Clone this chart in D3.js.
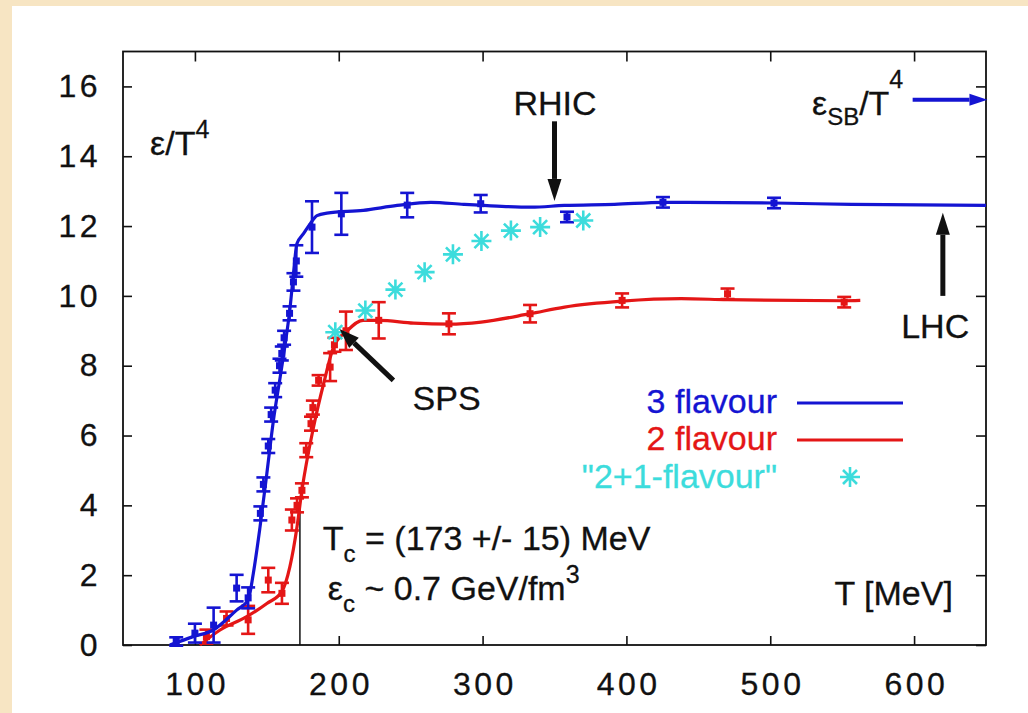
<!DOCTYPE html>
<html lang="en">
<head>
<meta charset="UTF-8">
<script src="https://d3js.org/d3.v7.min.js"></script>
<style>
  body { margin: 0; background: #f7e5c3; }
  svg text { font-family: "Liberation Sans", Arial, sans-serif; fill: #111; }
  .tick text { font-size: 32px; letter-spacing: 3.5px; stroke: #111; stroke-width: 0.3px; }
  .ann { font-size: 34px; stroke-width: 0.3px; }
</style>
</head>
<body>
<svg id="canvas" width="1028" height="713"></svg>
<script>
// 3 flavour lattice points: T [MeV], eps/T^4, error
const t3 = [87, 100, 113, 129, 137, 145.5, 147.6, 151, 153, 155.8, 158.8, 160.4, 162, 165.8, 168.5, 170.5, 181.4, 201.8, 247.6, 298.7, 358.7, 425.4, 502.6];
const e3 = [0.1, 0.34, 0.57, 1.63, 1.35, 3.77, 4.6, 5.7, 6.6, 7.3, 8.0, 8.35, 8.8, 9.5, 10.4, 11.0, 11.97, 12.35, 12.6, 12.64, 12.26, 12.68, 12.66];
const err3 = [0.12, 0.27, 0.5, 0.38, 0.3, 0.2, 0.2, 0.2, 0.2, 0.2, 0.2, 0.2, 0.2, 0.2, 0.25, 0.45, 0.74, 0.6, 0.35, 0.25, 0.15, 0.15, 0.15];

// 3 flavour fit curve
const fit3T = [82.6, 98.8, 112.8, 129, 137, 140.6, 145.3, 150, 154.6, 159.3, 162.8, 166.2, 168.5, 170.9, 175.5, 180.2, 184.9, 191.8, 217, 240.6, 264, 287, 310, 333.7, 356.8, 391.7, 426, 502.6, 556.7, 650];
const fit3E = [0, 0.24, 0.43, 1.0, 1.29, 2.05, 3.39, 4.91, 6.44, 7.68, 8.63, 9.68, 10.63, 11.49, 11.78, 12.07, 12.3, 12.37, 12.45, 12.59, 12.68, 12.62, 12.57, 12.54, 12.59, 12.62, 12.68, 12.66, 12.62, 12.59];

// 2 flavour lattice points
const t2 = [108, 122, 137, 151, 160.5, 167.4, 171, 174.4, 177.4, 180.7, 182, 186, 194, 197, 205, 227.8, 276.6, 333, 397, 470.3, 551.4];
const e2 = [0.24, 0.76, 0.72, 1.86, 1.48, 3.58, 4.0, 4.43, 5.58, 6.34, 6.8, 7.58, 7.96, 8.6, 9.0, 9.3, 9.2, 9.49, 9.87, 10.06, 9.82];
const err2 = [0.2, 0.2, 0.4, 0.35, 0.3, 0.3, 0.2, 0.2, 0.2, 0.2, 0.2, 0.15, 0.4, 0.2, 0.55, 0.52, 0.3, 0.25, 0.2, 0.15, 0.15];

// 2 flavour fit curve
const fit2T = [103.5, 117.5, 136, 150, 160.4, 166, 171, 174.4, 182.5, 189.5, 196.4, 205.8, 217, 228, 252, 277, 299, 333, 357, 397, 438, 470, 551, 562.6];
const fit2E = [0, 0.43, 0.81, 1.19, 1.53, 2.24, 3.39, 4.43, 6.25, 7.49, 8.53, 9.0, 9.3, 9.3, 9.22, 9.19, 9.25, 9.49, 9.68, 9.85, 9.92, 9.89, 9.86, 9.87];

// "2+1 flavour" points
const t21 = [197.6, 218.5, 239.4, 259.7, 279.4, 299.2, 319.7, 340, 370];
const e21 = [8.96, 9.58, 10.18, 10.68, 11.19, 11.57, 11.87, 11.97, 12.16];

const xTicks = [100, 200, 300, 400, 500, 600];
const yTicks = [0, 2, 4, 6, 8, 10, 12, 14, 16];

const legendLabels = ["3 flavour", "2 flavour", "\"2+1-flavour\""];

const blue = "#1414d2", red = "#e41616", cyan = "#3cdcdc";

let svg = d3.select("#canvas");
svg.append("rect").attr("x", 12).attr("y", 6).attr("width", 1016).attr("height", 707).attr("fill", "#fff");

const xScale = d3.scaleLinear().domain([50, 650]).range([123, 986]);
const yScale = d3.scaleLinear().domain([0, 17]).range([645, 51.5]);

// axes with inward ticks (mirrored like gnuplot)
svg.append("g").attr("transform", "translate(0,645)")
    .call(d3.axisBottom(xScale).tickValues(xTicks).tickSize(-9).tickPadding(27));
svg.append("g").attr("transform", "translate(0,51.5)")
    .call(d3.axisTop(xScale).tickValues(xTicks).tickSize(-10).tickFormat(""));
svg.append("g").attr("transform", "translate(123,0)")
    .call(d3.axisLeft(yScale).tickValues(yTicks).tickSize(-9).tickPadding(22));
svg.append("g").attr("transform", "translate(986,0)")
    .call(d3.axisRight(yScale).tickValues(yTicks).tickSize(-10).tickFormat(""));
svg.selectAll(".domain").remove();
svg.selectAll(".tick line").attr("stroke", "#111").attr("stroke-width", 1.6);
svg.selectAll(".tick text").attr("fill", "#111");
// shift bottom labels so letter-spacing stays centred
svg.selectAll("g.tick text").filter(function () { return this.getAttribute("dy") === "0.71em"; })
    .attr("dx", 1.75);

svg.append("rect")
    .attr("x", 123).attr("y", 51.5).attr("width", 863).attr("height", 593.5)
    .attr("fill", "none").attr("stroke", "#111").attr("stroke-width", 1.8);

// T_c marker line
svg.append("line")
    .attr("x1", xScale(173)).attr("x2", xScale(173))
    .attr("y1", yScale(0)).attr("y2", yScale(4.0))
    .attr("stroke", "#111").attr("stroke-width", 1.5);

function drawSeries(ts, es, errs, fitT, fitE, color) {
    const g = svg.append("g");
    g.append("path")
        .attr("d", d3.line().x(d => xScale(d[0])).y(d => yScale(d[1])).curve(d3.curveMonotoneX)(d3.zip(fitT, fitE)))
        .attr("fill", "none").attr("stroke", color).attr("stroke-width", 3.2);
    const pts = d3.zip(ts, es, errs);
    const bars = g.selectAll(".eb").data(pts).join("g").attr("class", "eb")
        .attr("stroke", color).attr("stroke-width", 2.6);
    bars.append("line")
        .attr("x1", d => xScale(d[0])).attr("x2", d => xScale(d[0]))
        .attr("y1", d => yScale(d[1] - d[2])).attr("y2", d => yScale(d[1] + d[2]));
    bars.append("line")
        .attr("x1", d => xScale(d[0]) - 7).attr("x2", d => xScale(d[0]) + 7)
        .attr("y1", d => yScale(d[1] - d[2])).attr("y2", d => yScale(d[1] - d[2]));
    bars.append("line")
        .attr("x1", d => xScale(d[0]) - 7).attr("x2", d => xScale(d[0]) + 7)
        .attr("y1", d => yScale(d[1] + d[2])).attr("y2", d => yScale(d[1] + d[2]));
    g.selectAll(".pt").data(pts).join("rect").attr("class", "pt")
        .attr("x", d => xScale(d[0]) - 3.5).attr("y", d => yScale(d[1]) - 3.5)
        .attr("width", 7).attr("height", 7).attr("fill", color);
}

drawSeries(t2, e2, err2, fit2T, fit2E, red);
drawSeries(t3, e3, err3, fit3T, fit3E, blue);

const starPath = "M-10,0H10M0,-10V10M-7,-7L7,7M-7,7L7,-7";
svg.append("g").selectAll("path").data(d3.zip(t21, e21)).join("path")
    .attr("d", starPath)
    .attr("transform", d => `translate(${xScale(d[0])},${yScale(d[1])})`)
    .attr("fill", "none").attr("stroke", cyan).attr("stroke-width", 2.6);

// arrows
function arrow(t0, v0, t1, v1, color, w, headLen, headW) {
    const x0 = xScale(t0), y0 = yScale(v0), x1 = xScale(t1), y1 = yScale(v1);
    const a = Math.atan2(y1 - y0, x1 - x0);
    const bx = x1 - headLen * Math.cos(a), by = y1 - headLen * Math.sin(a);
    svg.append("line").attr("x1", x0).attr("y1", y0).attr("x2", bx).attr("y2", by)
        .attr("stroke", color).attr("stroke-width", w);
    const px = -Math.sin(a) * headW / 2, py = Math.cos(a) * headW / 2;
    svg.append("path")
        .attr("d", `M${x1},${y1}L${bx + px},${by + py}L${bx - px},${by - py}Z`)
        .attr("fill", color);
}
arrow(350, 15.0, 350, 12.72, "#111", 5, 22, 14);   // RHIC
arrow(620, 10.0, 620, 12.38, "#111", 5, 22, 14);   // LHC
arrow(238, 7.58, 200.5, 9.05, "#111", 5, 20, 14);  // SPS
arrow(599, 15.62, 651, 15.62, blue, 4, 18, 12);    // SB limit

function label(t, v, anchor, color) {
    return svg.append("text").attr("class", "ann")
        .attr("x", xScale(t)).attr("y", yScale(v))
        .attr("text-anchor", anchor).style("fill", color || "#111")
        .style("stroke", color || "#111");
}

const lt = label(68.8, 14.04, "start");
lt.append("tspan").text("ε/T");
lt.append("tspan").attr("dy", -17).attr("font-size", 25).text("4");

label(350.4, 15.18, "middle").text("RHIC");

const sb = label(529, 15.18, "start");
sb.append("tspan").text("ε");
sb.append("tspan").attr("dy", 10).attr("font-size", 24).text("SB");
sb.append("tspan").attr("dy", -10).text("/T");
sb.append("tspan").attr("dy", -27).attr("font-size", 25).text("4");

label(614.7, 8.79, "middle").text("LHC");
label(275, 6.73, "middle").text("SPS");

const tc = label(188.9, 2.72, "start");
tc.append("tspan").text("T");
tc.append("tspan").attr("dy", 12).attr("font-size", 24).text("c");
tc.append("tspan").attr("dy", -12).text(" = (173 +/- 15) MeV");

const ec = label(192.4, 1.29, "start");
ec.append("tspan").text("ε");
ec.append("tspan").attr("dy", 12).attr("font-size", 24).text("c");
ec.append("tspan").attr("dy", -12).text(" ~ 0.7 GeV/fm");
ec.append("tspan").attr("dy", -17).attr("font-size", 25).text("3");

label(627, 1.15, "end").text("T [MeV]");

// legend
const legendColors = [blue, red, cyan];
const legendY = [413, 450, 488];
const lg = svg.append("g");
lg.selectAll("text").data(legendLabels).join("text").attr("class", "ann")
    .attr("x", 777).attr("y", (d, i) => legendY[i]).attr("text-anchor", "end")
    .style("fill", (d, i) => legendColors[i]).style("stroke", (d, i) => legendColors[i])
    .text(d => d);
lg.selectAll("line").data(legendColors.slice(0, 2)).join("line")
    .attr("x1", 797).attr("x2", 903)
    .attr("y1", (d, i) => legendY[i] - 10).attr("y2", (d, i) => legendY[i] - 10)
    .attr("stroke", d => d).attr("stroke-width", 3.2);
lg.append("path").attr("d", starPath)
    .attr("transform", `translate(850,${legendY[2] - 11})`)
    .attr("fill", "none").attr("stroke", cyan).attr("stroke-width", 2.6);
</script>
</body>
</html>
